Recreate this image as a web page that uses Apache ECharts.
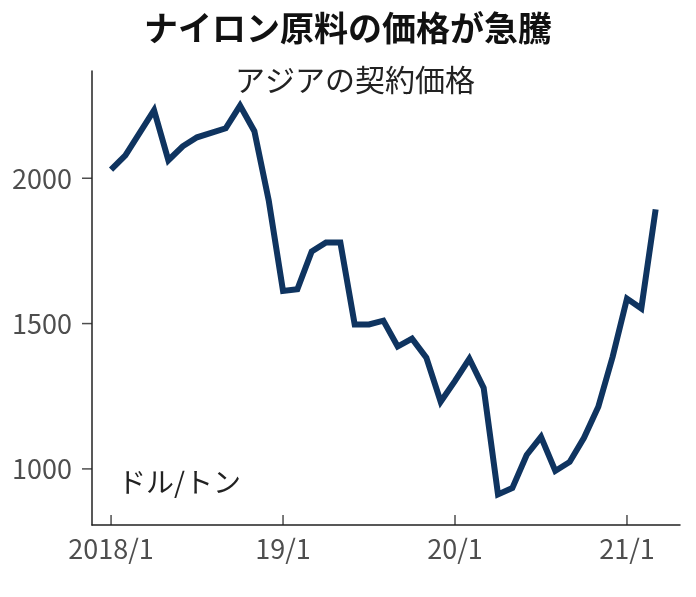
<!DOCTYPE html>
<html lang="ja" style="height: 100%">
<head>
  <meta charset="utf-8">
</head>
<body style="height: 100%; margin: 0; background: #fff">
  <div id="container" style="height: 100%"></div>
  <script type="text/javascript" src="https://fastly.jsdelivr.net/npm/echarts@6/dist/echarts.min.js"></script>
  <script type="text/javascript">
    // month index: 0 = 2018/1
    var months = [0, 1, 3, 4, 5, 6, 8, 9, 10, 11, 12, 13, 14, 15, 16, 17, 18, 19, 20, 21, 22, 23, 24, 25, 26, 27, 28, 29, 30, 31, 32, 33, 34, 35, 36, 37, 38];
    var prices = [2030, 2079, 2234, 2062, 2110, 2141, 2172, 2250, 2162, 1924, 1612, 1618, 1748, 1779, 1779, 1497, 1497, 1510, 1421, 1448, 1383, 1231, 1303, 1379, 1279, 912, 934, 1048, 1110, 993, 1024, 1107, 1214, 1386, 1586, 1552, 1893];
    var tickMonths = [0, 12, 24, 36];
    var tickLabels = ['2018/1', '19/1', '20/1', '21/1'];

    var font = '"Noto Sans CJK JP", sans-serif';
    var chart = echarts.init(document.getElementById('container'), null, { renderer: 'canvas' });
    var option = {
      animation: false,
      title: [
        { text: 'ナイロン原料の価格が急騰', left: 'center', top: 6,
          textStyle: { fontFamily: font, fontSize: 34, fontWeight: 'bold', color: '#111' } },
        { text: 'アジアの契約価格', left: 350, top: 60, textAlign: 'center',
          textStyle: { fontFamily: font, fontSize: 30, fontWeight: 'normal', color: '#222' } }
      ],
      graphic: [{
        type: 'text', left: 118, top: 468,
        style: { text: 'ドル/トン', font: '28px ' + font, fill: '#222' }
      }],
      grid: { left: 92, right: 16, top: 71, bottom: 72 },
      xAxis: {
        type: 'value', min: -1.33, max: 39.7,
        axisLine: { onZero: false, lineStyle: { color: '#222', width: 1.5 } },
        axisTick: { show: false },
        axisLabel: { show: false },
        splitLine: { show: false }
      },
      yAxis: {
        type: 'value', min: 807, max: 2369,
        axisLine: { show: true, onZero: false, lineStyle: { color: '#222', width: 1.5 } },
        axisTick: { show: false },
        axisLabel: { show: false },
        splitLine: { show: false }
      },
      series: [
        {
          type: 'line',
          data: months.map(function (m, i) { return [m, prices[i]]; }),
          showSymbol: false,
          lineStyle: { color: '#0f3460', width: 6, join: 'miter' },
          z: 3
        },
        {
          // y ticks and labels
          type: 'scatter', symbol: 'rect', symbolSize: [10, 1.5],
          symbolOffset: [-5, 0],
          itemStyle: { color: '#222' },
          data: [[-1.33, 1000], [-1.33, 1500], [-1.33, 2000]],
          label: { show: true, position: 'left', distance: 10,
            formatter: function (p) { return p.value[1]; },
            fontFamily: font, fontSize: 27, color: '#222' }
        },
        {
          // x ticks and labels
          type: 'scatter', symbol: 'rect', symbolSize: [1.5, 10],
          symbolOffset: [0, -5],
          itemStyle: { color: '#222' },
          data: tickMonths.map(function (m) { return [m, 807]; }),
          label: { show: true, position: 'bottom', distance: 10,
            formatter: function (p) { return tickLabels[p.dataIndex]; },
            fontFamily: font, fontSize: 27, color: '#222' }
        }
      ]
    };
    chart.setOption(option);
  </script>
</body>
</html>
